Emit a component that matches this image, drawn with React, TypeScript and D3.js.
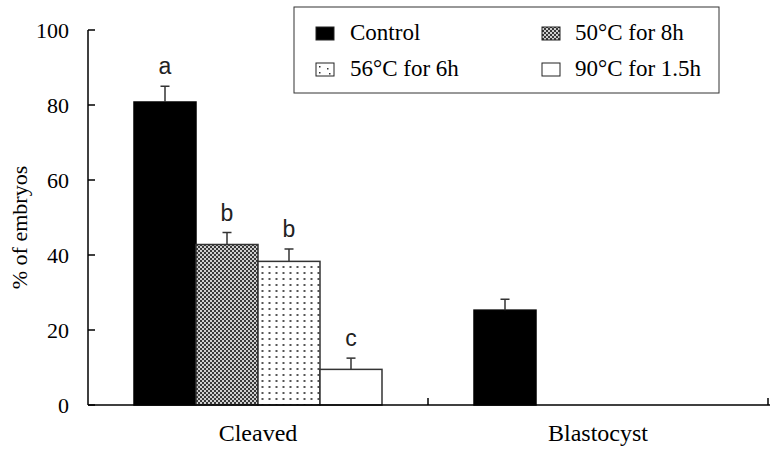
import React from "react";
import * as d3 from "d3";

const categories = ["Cleaved", "Blastocyst"];
const series = ["Control", "50°C for 8h", "56°C for 6h", "90°C for 1.5h"];
const cleavedValues = [80.8, 42.8, 38.3, 9.5];
const cleavedErrors = [4.2, 3.2, 3.3, 3.0];
const cleavedLetters = ["a", "b", "b", "c"];
const blastocystValues = [25.3, 0, 0, 0];
const blastocystErrors = [2.9, 0, 0, 0];
const blastocystLetters = ["", "", "", ""];
const yTicks = [0, 20, 40, 60, 80, 100];

const W = 777;
const H = 454;
const left = 88;
const right = 768;
const top = 30;
const bottom = 405;

const fills = ["#000", "url(#checker)", "url(#dots)", "#fff"];

const serif = { fontFamily: '"Liberation Serif", "Times New Roman", "DejaVu Serif", serif' };
const sans = { fontFamily: '"Liberation Sans", Arial, "DejaVu Sans", sans-serif' };

export default function App() {
  const y = d3.scaleLinear().domain([0, 100]).range([bottom, top]);
  const x0 = d3
    .scaleBand<string>()
    .domain(categories)
    .range([left, right])
    .paddingInner(0.2706)
    .paddingOuter(0.1353);
  const x1 = d3.scaleBand<string>().domain(series).range([0, x0.bandwidth()]);
  const step = x0.step();

  const rows = categories.map((c, ci) => ({
    cat: c,
    values: ci === 0 ? cleavedValues : blastocystValues,
    errors: ci === 0 ? cleavedErrors : blastocystErrors,
    letters: ci === 0 ? cleavedLetters : blastocystLetters,
  }));

  const legendItems = [
    { i: 0, x: 316, y: 27, tx: 350, ty: 40 },
    { i: 1, x: 542, y: 27, tx: 575, ty: 40 },
    { i: 2, x: 316, y: 63, tx: 350, ty: 76 },
    { i: 3, x: 542, y: 63, tx: 575, ty: 76 },
  ];

  return (
    <svg
      width={W}
      height={H}
      style={{ position: "absolute", left: 0, top: 0, background: "#fff" }}
    >
      <defs>
        <pattern id="checker" width={4} height={4} patternUnits="userSpaceOnUse">
          <rect width={4} height={4} fill="#cfcfcf" />
          <rect x={0} y={0} width={2} height={2} fill="#383838" />
          <rect x={2} y={2} width={2} height={2} fill="#383838" />
        </pattern>
        <pattern id="dots" width={7} height={6} patternUnits="userSpaceOnUse">
          <rect width={7} height={6} fill="#fff" />
          <rect x={2.5} y={2} width={2} height={2} fill="#555" />
        </pattern>
      </defs>

      {/* bars */}
      {rows.map((r) =>
        series.map((s, si) => {
          const v = r.values[si];
          if (!v) return null;
          const bx = (x0(r.cat) as number) + (x1(s) as number);
          const bw = x1.bandwidth();
          const by = y(v);
          const cx = bx + bw / 2;
          const ey = y(v + r.errors[si]);
          return (
            <g key={r.cat + s}>
              <rect
                x={bx}
                y={by}
                width={bw}
                height={bottom - by}
                fill={fills[si]}
                stroke={si === 0 ? "#000" : "#333"}
                strokeWidth={1.5}
              />
              <line x1={cx} x2={cx} y1={by} y2={ey} stroke="#333" strokeWidth={1.5} />
              <line x1={cx - 4.5} x2={cx + 4.5} y1={ey} y2={ey} stroke="#333" strokeWidth={1.5} />
              {r.letters[si] && (
                <text
                  x={cx}
                  y={ey - 12}
                  textAnchor="middle"
                  style={sans}
                  fontSize={23}
                  fill="#222"
                >
                  {r.letters[si]}
                </text>
              )}
            </g>
          );
        })
      )}

      {/* y axis */}
      <line x1={left} x2={left} y1={top} y2={bottom} stroke="#000" strokeWidth={1.5} />
      {yTicks.map((t) => (
        <g key={t}>
          <line x1={left} x2={left + 7} y1={y(t)} y2={y(t)} stroke="#000" strokeWidth={1.5} />
          <text
            x={69}
            y={y(t)}
            dy="0.35em"
            textAnchor="end"
            style={serif}
            fontSize={22}
            fill="#000"
          >
            {t}
          </text>
        </g>
      ))}
      <text
        transform={`translate(27,${(top + bottom) / 2 + 10}) rotate(-90)`}
        textAnchor="middle"
        style={serif}
        fontSize={22}
        fill="#000"
      >
        % of embryos
      </text>

      {/* x axis */}
      <line x1={left} x2={right + 2} y1={bottom} y2={bottom} stroke="#000" strokeWidth={1.5} />
      {categories.map((c) => {
        const bx = (x0(c) as number) + x0.bandwidth() / 2 + step / 2;
        return (
          <line key={"t" + c} x1={bx} x2={bx} y1={bottom} y2={bottom - 7} stroke="#000" strokeWidth={1.5} />
        );
      })}
      {categories.map((c) => (
        <text
          key={c}
          x={(x0(c) as number) + x0.bandwidth() / 2}
          y={441}
          textAnchor="middle"
          style={serif}
          fontSize={24}
          fill="#000"
        >
          {c}
        </text>
      ))}

      {/* legend */}
      <rect x={294} y={7} width={425} height={86} fill="#fff" stroke="#333" strokeWidth={1} />
      {legendItems.map((l) => (
        <g key={l.i}>
          {l.i === 2 ? (
            <g>
              <rect x={l.x} y={l.y} width={18} height={13} fill="#fff" stroke="#222" strokeWidth={1} />
              <rect x={l.x + 3} y={l.y + 3} width={1.5} height={1.5} fill="#333" />
              <rect x={l.x + 11} y={l.y + 5} width={1.5} height={1.5} fill="#333" />
              <rect x={l.x + 3} y={l.y + 9} width={1.5} height={1.5} fill="#333" />
              <rect x={l.x + 13} y={l.y + 10} width={1.5} height={1.5} fill="#333" />
            </g>
          ) : (
            <rect
              x={l.x}
              y={l.y}
              width={18}
              height={13}
              fill={fills[l.i]}
              stroke="#222"
              strokeWidth={1}
            />
          )}
          <text x={l.tx} y={l.ty} style={serif} fontSize={23} fill="#000">
            {series[l.i]}
          </text>
        </g>
      ))}
    </svg>
  );
}
